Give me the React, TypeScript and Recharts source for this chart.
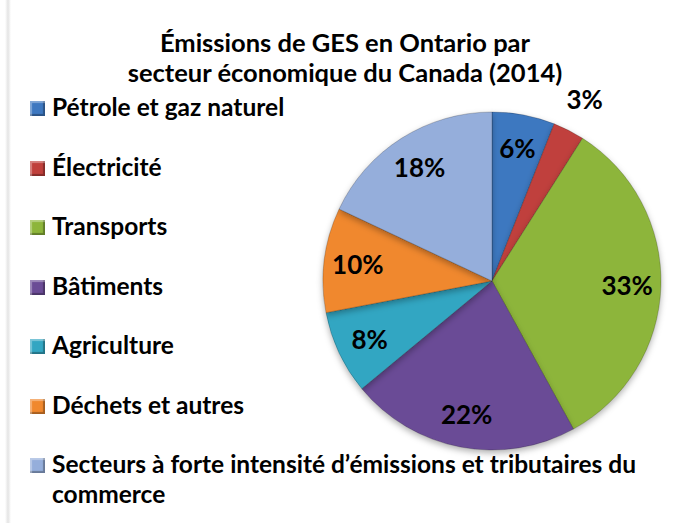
import React from "react";
import { PieChart, Pie, Cell } from "recharts";

const categories = [
  "Pétrole et gaz naturel",
  "Électricité",
  "Transports",
  "Bâtiments",
  "Agriculture",
  "Déchets et autres",
  "Secteurs à forte intensité d’émissions et tributaires du commerce",
];
const values = [6, 3, 33, 22, 8, 10, 18];
const colors = ["#3E78C0", "#C0403C", "#8DB53A", "#6B4C96", "#33A6C2", "#F0882E", "#95AEDB"];
const titleLines = ["Émissions de GES en Ontario par", "secteur économique du Canada (2014)"];

const data = categories.map((name, i) => ({ name, value: values[i] }));

const FONT = "Lato, 'Open Sans', sans-serif";
const RAD = Math.PI / 180;

const renderLabel = (props: any) => {
  const { cx, cy, midAngle, outerRadius, value } = props;
  const r = value < 5 ? outerRadius + 35 : outerRadius * 0.8;
  const x = cx + r * Math.cos(-midAngle * RAD);
  const y = cy + r * Math.sin(-midAngle * RAD);
  return (
    <text
      x={x}
      y={y}
      textAnchor="middle"
      dominantBaseline="central"
      fontFamily={FONT}
      fontWeight={700}
      fontSize={26}
      fill="#000"
    >
      {value}%
    </text>
  );
};

export default function App() {
  return (
    <div
      style={{
        position: "absolute",
        left: 0,
        top: 0,
        width: 678,
        height: 523,
        background: "#fff",
        fontFamily: FONT,
        overflow: "hidden",
      }}
    >
      <div
        style={{
          position: "absolute",
          left: 5,
          top: 0,
          width: 6,
          height: 523,
          background: "linear-gradient(to right, #fff, #e4e4e4, #fff)",
        }}
      />
      <div
        style={{
          position: "absolute",
          left: 0,
          top: 27,
          width: 690,
          textAlign: "center",
          fontWeight: 700,
          fontSize: 25.5,
          lineHeight: "30px",
          color: "#000",
          whiteSpace: "nowrap",
        }}
      >
        {titleLines.map((t) => (
          <div key={t}>{t}</div>
        ))}
      </div>
      <div style={{ position: "absolute", left: 0, top: 0 }}>
        <PieChart width={678} height={523}>
          <defs>
            <filter id="shadow" x="-20%" y="-20%" width="140%" height="140%">
              <feDropShadow dx="0" dy="3" stdDeviation="3" floodColor="#000" floodOpacity="0.3" />
            </filter>
          </defs>
          <Pie
            data={data}
            dataKey="value"
            nameKey="name"
            cx={487}
            cy={276}
            outerRadius={169}
            startAngle={90}
            endAngle={-270}
            isAnimationActive={false}
            label={renderLabel}
            labelLine={false}
            stroke="rgba(0,0,0,0.25)"
            strokeWidth={0.8}
            style={{ filter: "url(#shadow)" }}
          >
            {data.map((d, i) => (
              <Cell key={d.name} fill={colors[i]} />
            ))}
          </Pie>
        </PieChart>
      </div>
      {categories.map((c, i) => (
        <div
          key={c}
          style={{
            position: "absolute",
            left: 30,
            top: 92 + i * 59.5,
            width: 640,
            display: "flex",
            alignItems: "flex-start",
            fontWeight: 700,
            fontSize: 24.5,
            lineHeight: "30px",
            color: "#000",
          }}
        >
          <div
            style={{
              width: 15,
              height: 15,
              marginTop: 9,
              marginRight: 7,
              flexShrink: 0,
              background: colors[i],
              boxShadow: "inset 2px 2px 1px rgba(255,255,255,0.35), inset -2px -2px 1px rgba(0,0,0,0.3)",
            }}
          />
          <div style={{ width: 610 }}>{c}</div>
        </div>
      ))}
    </div>
  );
}
